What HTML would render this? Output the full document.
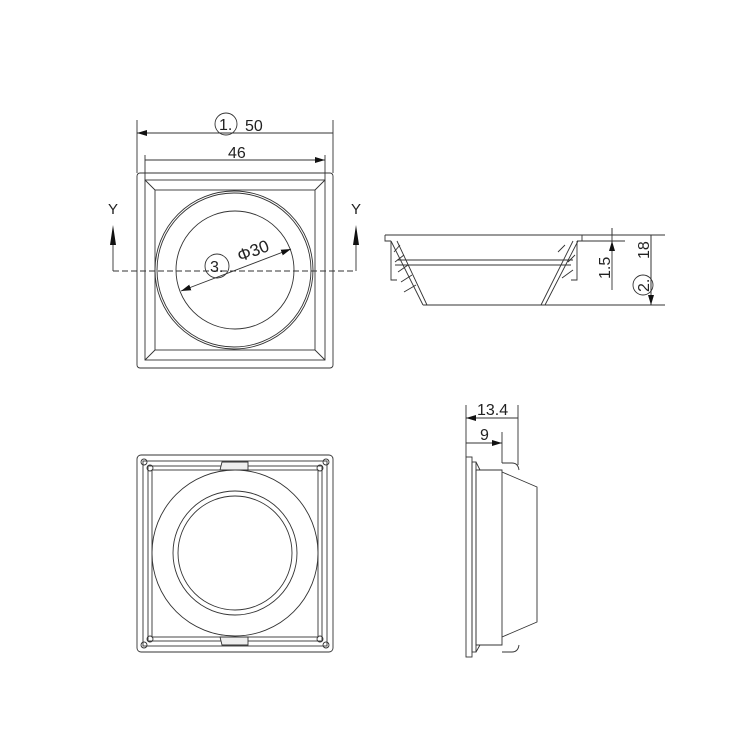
<!DOCTYPE html>
<html><head><style>body{margin:0;background:#fff}svg{display:block}</style></head><body>
<svg width="750" height="750" viewBox="0 0 750 750" xmlns="http://www.w3.org/2000/svg" font-family="Liberation Sans, sans-serif" fill="none" stroke="#333" stroke-width="0.9">
<defs><marker id="a" viewBox="0 0 10 6" refX="10" refY="3" markerWidth="10" markerHeight="6" orient="auto-start-reverse" markerUnits="userSpaceOnUse"><path d="M0,0L10,3L0,6z" fill="#111" stroke="none"/></marker></defs>
<!-- top view -->
<rect x="137" y="173" width="196" height="195" rx="3"/>
<rect x="145" y="180" width="180" height="180"/>
<rect x="155" y="190" width="160" height="160"/>
<path d="M145 180L155 190M325 180L315 190M145 360L155 350M325 360L315 350"/>
<circle cx="234" cy="270" r="79"/><circle cx="234" cy="270" r="77"/>
<circle cx="235" cy="270" r="59"/>
<path d="M113 271H356" stroke-dasharray="6,3"/>
<path d="M113 271V245M356 271V245"/>
<path d="M110 245L113 225L116 245zM353 245L356 225L359 245z" fill="#111" stroke="none"/>
<g fill="#222" stroke="none" font-size="15"><text x="108" y="214">Y</text><text x="351" y="214">Y</text></g>
<path d="M137 120V173M333 120V173M145 155V180M325 155V180"/>
<path d="M137 133H333M145 160H325" marker-start="url(#a)" marker-end="url(#a)"/>
<circle cx="226" cy="124" r="11"/>
<g fill="#222" stroke="none" font-size="16"><text x="219" y="130">1.</text><text x="245" y="131">50</text><text x="228" y="158">46</text></g>
<path d="M181 291L291 249" marker-start="url(#a)" marker-end="url(#a)"/>
<circle cx="217" cy="266" r="12"/>
<text x="210" y="272" fill="#222" stroke="none" font-size="16">3.</text>
<text x="240" y="262" fill="#222" stroke="none" font-size="17" transform="rotate(-21 240 262)">Φ30</text>
<!-- side view -->
<path d="M385 235H582M385 235V241H391M582 235V241H577M391 241V280H397M577 241V280H571"/>
<path d="M391 241L423 305M397 241L427 305M578 241L545 305M573 241L541 305M423 305H545M397 260H573M395 265H571"/>
<path d="M394 252L400 245M395 262L404 255M398 272L408 265M401 282L412 275M404 292L416 285M575 255L568 262M573 270L562 278M565 245L558 252"/>
<path d="M582 235H665M582 241H625M545 305H665M612 228V290M651 235V305"/>
<path d="M612 228V235M612 248V241" marker-end="url(#a)"/>
<path d="M651 270V235M651 270V305" marker-end="url(#a)"/>
<g fill="#222" stroke="none" font-size="16"><text x="0" y="0" transform="translate(610 279) rotate(-90)">1.5</text><text x="0" y="0" transform="translate(649 259) rotate(-90)">18</text><text x="0" y="0" transform="translate(649 292) rotate(-90)">2.</text></g>
<circle cx="643" cy="285" r="10"/>
<!-- bottom view -->
<rect x="137" y="455" width="196" height="197" rx="4"/>
<rect x="143" y="461" width="184" height="185"/>
<rect x="148" y="466" width="174" height="175"/>
<rect x="152" y="470" width="166" height="167"/>
<circle cx="144" cy="462" r="3"/><circle cx="326" cy="462" r="3"/><circle cx="144" cy="645" r="3"/><circle cx="326" cy="645" r="3"/>
<circle cx="150" cy="468" r="3"/><circle cx="320" cy="468" r="3"/><circle cx="150" cy="639" r="3"/><circle cx="320" cy="639" r="3"/>
<path d="M222 462H248V470H220zM222 645H248V637H220z" fill="#eee"/>
<circle cx="235" cy="553" r="83"/>
<circle cx="235" cy="553" r="62"/>
<circle cx="235" cy="553" r="57"/>
<!-- side view 2 -->
<rect x="466" y="457" width="6" height="200"/>
<rect x="472" y="462" width="4" height="190"/>
<path d="M476 470H502V645H476zM476 462L480 470M476 652L480 645"/>
<path d="M502 463H512Q518 463 519 470M502 652H512Q518 652 519 645M502 472L537 487V622L502 637"/>
<path d="M466 405V457M518 405V465M502 432V463"/>
<path d="M466 418H518M466 443H502" marker-start="url(#a)" marker-end="url(#a)"/>
<g fill="#222" stroke="none" font-size="16"><text x="477" y="415">13.4</text><text x="480" y="440">9</text></g>
</svg>
</body></html>
